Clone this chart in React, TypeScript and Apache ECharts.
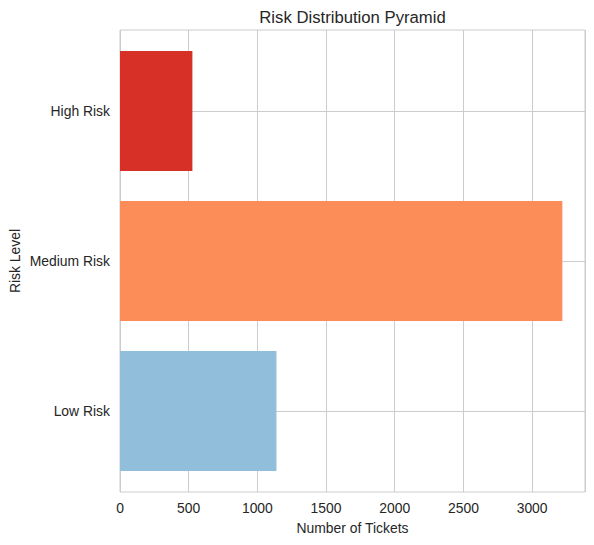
import React, { useEffect, useRef } from 'react';
import * as echarts from 'echarts';

const categories = ['Low Risk', 'Medium Risk', 'High Risk'];
const tickets = [1139, 3220, 527];
const barColors = ['#91bfdb', '#fc8d59', '#d73027'];
const xTicks = [0, 500, 1000, 1500, 2000, 2500, 3000];
const xMax = 3385;

const FONT = '"Liberation Sans", Arial, sans-serif';
const TEXT = '#262626';
const GRID = '#cccccc';

const App: React.FC = () => {
  const chartRef = useRef<HTMLDivElement>(null);

  useEffect(() => {
    if (!chartRef.current) return;
    const chart = echarts.init(chartRef.current, undefined, { renderer: 'svg' });

    const hiddenX = { type: 'value', min: 0, max: xMax, show: false };

    const option = {
      animation: false,
      textStyle: { fontFamily: FONT },
      graphic: [
        {
          type: 'text',
          x: 352.5,
          y: 17,
          style: {
            text: 'Risk Distribution Pyramid',
            fill: TEXT,
            font: `16.7px ${FONT}`,
            textAlign: 'center',
            textVerticalAlign: 'middle'
          }
        }
      ],
      grid: [
        // frame + x axis
        { left: 120, right: 9, top: 30, bottom: 53, show: true, borderColor: GRID, borderWidth: 1, backgroundColor: '#ffffff' },
        // bars
        { left: 120, right: 9, top: 36, bottom: 59 },
        // horizontal grid lines at category centres
        { left: 120, right: 9, top: 111, bottom: 134 }
      ],
      xAxis: [
        {
          gridIndex: 0,
          type: 'value',
          min: 0,
          max: xMax,
          interval: 500,
          name: 'Number of Tickets',
          nameLocation: 'middle',
          nameGap: 29,
          nameTextStyle: { color: TEXT, fontSize: 13.9, fontFamily: FONT },
          axisLine: { show: false },
          axisTick: { show: false },
          axisLabel: {
            color: TEXT,
            fontSize: 13.9,
            fontFamily: FONT,
            margin: 9,
            formatter: (v: number) => (xTicks.includes(v) ? `${v}` : '')
          },
          splitLine: { show: true, lineStyle: { color: GRID, width: 1 } }
        },
        { gridIndex: 1, ...hiddenX },
        { gridIndex: 2, ...hiddenX }
      ],
      yAxis: [
        {
          gridIndex: 0,
          type: 'value',
          min: 0,
          max: 1,
          name: 'Risk Level',
          nameLocation: 'middle',
          nameGap: 98,
          nameTextStyle: { color: TEXT, fontSize: 13.9, fontFamily: FONT },
          axisLine: { show: false },
          axisTick: { show: false },
          axisLabel: { show: false },
          splitLine: { show: false }
        },
        {
          gridIndex: 1,
          type: 'category',
          data: categories,
          axisLine: { show: false },
          axisTick: { show: false },
          axisLabel: { color: TEXT, fontSize: 13.9, fontFamily: FONT, margin: 10 },
          splitLine: { show: false }
        },
        {
          gridIndex: 2,
          type: 'value',
          min: 0,
          max: categories.length - 1,
          interval: 1,
          axisLine: { show: false },
          axisTick: { show: false },
          axisLabel: { show: false },
          splitLine: { show: true, lineStyle: { color: GRID, width: 1 } }
        }
      ],
      series: [
        {
          type: 'bar',
          xAxisIndex: 1,
          yAxisIndex: 1,
          barWidth: 120,
          data: tickets.map((v, i) => ({ value: v, itemStyle: { color: barColors[i] } }))
        }
      ]
    };

    chart.setOption(option as any);

    return () => {
      chart.dispose();
    };
  }, []);

  return (
    <div
      ref={chartRef}
      style={{ position: 'absolute', left: 0, top: 0, width: 594, height: 545 }}
    />
  );
};

export default App;
